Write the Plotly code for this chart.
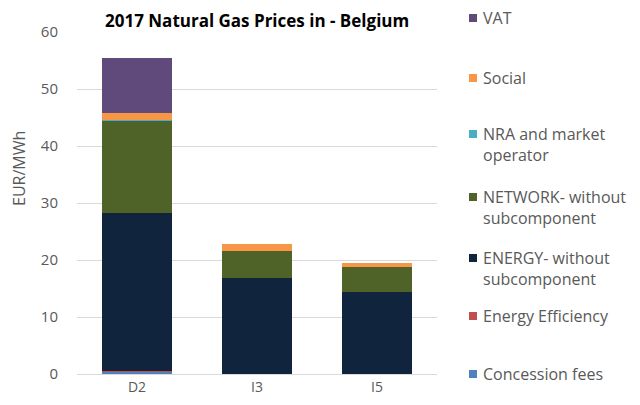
import plotly.graph_objects as go

categories = ["D2", "I3", "I5"]

concession_fees = [0.5, 0.0, 0.0]
energy_efficiency = [0.1, 0.0, 0.0]
energy = [27.7, 16.9, 14.4]
nra = [0.1, 0.05, 0.05]
network = [16.1, 4.7, 4.4]
social = [1.3, 1.1, 0.6]
vat = [9.6, 0.0, 0.0]

# bottom to top of the stack
series = [
    ("Concession fees", concession_fees, "#4F81BD"),
    ("Energy Efficiency", energy_efficiency, "#C0504D"),
    ("ENERGY- without<br>subcomponent", energy, "#10243E"),
    ("NETWORK- without<br>subcomponent", network, "#4F6228"),
    ("NRA and market<br>operator", nra, "#4BACC6"),
    ("Social", social, "#F79646"),
    ("VAT", vat, "#604A7B"),
]

# legend rows: page pixel y of the first text line centre
legend_rows = [373, 315, 257, 196, 133, 77, 17]

OFF = 8  # page body margin
W, H = 632, 397
L, R, T, B = 69, 203, 24, 31
pw, ph = W - L - R, H - T - B


def px_x(x):
    return (x - OFF - L) / pw


def px_y(y):
    return (H - B - (y - OFF)) / ph


fig = go.Figure()
for name, vals, color in series:
    fig.add_trace(go.Bar(x=categories, y=vals, name=name, marker_color=color,
                         marker_line_width=0, showlegend=False))

for (name, vals, color), row in zip(series, legend_rows):
    fig.add_shape(type="rect", xref="paper", yref="paper",
                  x0=px_x(469), x1=px_x(477), y0=px_y(row + 5), y1=px_y(row - 3),
                  fillcolor=color, line_width=0)
    fig.add_annotation(text=name, xref="paper", yref="paper",
                       x=px_x(481), y=px_y(row - 12), xanchor="left", yanchor="top",
                       align="left", showarrow=False,
                       font=dict(size=16, color="#595959", family="Open Sans"))

# y axis title
fig.add_annotation(text="EUR/MWh", xref="paper", yref="paper",
                   x=px_x(19), y=px_y(168), textangle=-90, showarrow=False,
                   xanchor="center", yanchor="middle",
                   font=dict(size=16, color="#595959", family="Open Sans"))

# chart title, kept fully inside the page
fig.add_annotation(text="<b>2017 Natural Gas Prices in - Belgium</b>",
                   xref="paper", yref="paper", x=px_x(257), y=px_y(21),
                   xanchor="center", yanchor="middle", showarrow=False,
                   font=dict(size=17, color="#000000", family="Open Sans"))

fig.update_layout(
    width=W, height=H,
    barmode="stack",
    bargap=0.42,
    plot_bgcolor="white",
    paper_bgcolor="white",
    margin=dict(l=L, r=R, t=T, b=B, autoexpand=False),
    font=dict(family="Open Sans", color="#595959", size=15),
    yaxis=dict(range=[0, 60], dtick=10, showgrid=True, gridcolor="#D9D9D9",
               zeroline=False, showline=False, ticks="", ticklabelstandoff=18,
               tickfont=dict(size=15), automargin=False),
    xaxis=dict(showline=True, linecolor="#D9D9D9", ticks="", tickfont=dict(size=14),
               automargin=False),
)

fig.write_html("out.html")
